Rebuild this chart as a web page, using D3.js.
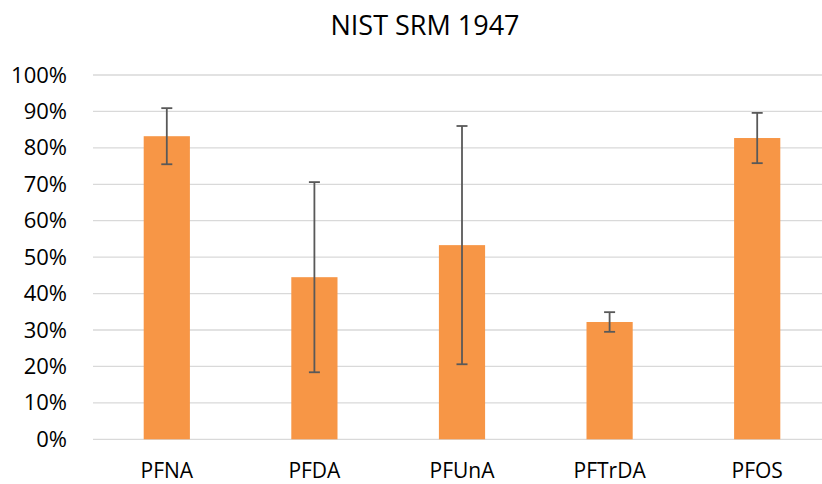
<!DOCTYPE html>
<html>
<head>
<meta charset="utf-8">
<script src="https://cdn.jsdelivr.net/npm/d3@7"></script>
<style>
  body { margin: 0; background: #fff; }
  svg text { font-family: "Open Sans", sans-serif; fill: #000; }
</style>
</head>
<body>
<svg id="chart" width="822" height="484"></svg>
<script>
    // chart data
    var categories = ["PFNA", "PFDA", "PFUnA", "PFTrDA", "PFOS"];
    var means = [0.832, 0.445, 0.533, 0.322, 0.827];
    var errors = [0.077, 0.261, 0.327, 0.027, 0.069];
    var yTicks = [0, 0.1, 0.2, 0.3, 0.4, 0.5, 0.6, 0.7, 0.8, 0.9, 1.0];
    var title = "NIST SRM 1947";

    var svg = d3.select("#chart");
    var plotLeft = 93, plotRight = 831, plotTop = 75, plotBottom = 439.3;

    var x = d3.scaleBand().domain(categories).range([plotLeft, plotRight]).paddingInner(0.687).paddingOuter(0.3435);
    var y = d3.scaleLinear().domain([0, 1]).range([plotBottom, plotTop]);

    svg.append("text")
        .attr("x", 425).attr("y", 35)
        .attr("text-anchor", "middle")
        .style("font-size", "27px")
        .text(title);

    // gridlines
    svg.append("g").selectAll("line").data(yTicks).join("line")
        .attr("x1", plotLeft).attr("x2", plotRight)
        .attr("y1", function (d) { return y(d); })
        .attr("y2", function (d) { return y(d); })
        .attr("stroke", "#d9d9d9").attr("stroke-width", 1.3);

    var yAxis = d3.axisLeft(y).tickValues(yTicks).tickSize(0).tickPadding(0)
        .tickFormat(d3.format(".0%"));
    var gy = svg.append("g").attr("transform", "translate(67,0)").call(yAxis);
    gy.select(".domain").remove();
    gy.selectAll("text").style("font-size", "22px").attr("fill", "#000");

    // bars
    svg.append("g").selectAll("rect").data(means).join("rect")
        .attr("x", function (d, i) { return x(categories[i]); })
        .attr("width", x.bandwidth())
        .attr("y", function (d) { return y(d); })
        .attr("height", function (d) { return plotBottom - y(d); })
        .attr("fill", "#f79646");

    // error bars
    var eb = svg.append("g").attr("stroke", "#595959").attr("stroke-width", 1.8);
    means.forEach(function (m, i) {
        var cx = x(categories[i]) + x.bandwidth() / 2;
        var hi = y(m + errors[i]), lo = y(m - errors[i]);
        eb.append("line").attr("x1", cx).attr("x2", cx).attr("y1", hi).attr("y2", lo);
        eb.append("line").attr("x1", cx - 5.5).attr("x2", cx + 5.5).attr("y1", hi).attr("y2", hi);
        eb.append("line").attr("x1", cx - 5.5).attr("x2", cx + 5.5).attr("y1", lo).attr("y2", lo);
    });

    var xAxis = d3.axisBottom(x).tickSize(0).tickPadding(0);
    var gx = svg.append("g").attr("transform", "translate(0,458)").call(xAxis);
    gx.select(".domain").remove();
    gx.selectAll("text").style("font-size", "21px").attr("fill", "#000").attr("dy", "0.95em");
</script>
</body>
</html>
